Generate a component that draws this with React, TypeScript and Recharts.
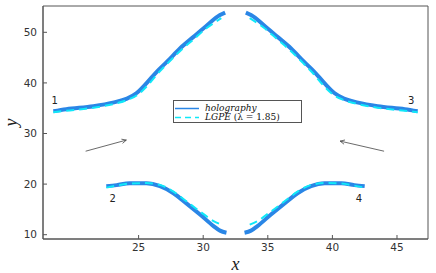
import { LineChart, Line, XAxis, YAxis, ReferenceLine, ReferenceDot, ReferenceArea, Label } from 'recharts';

// holography curves (1: upper-left, 2: lower-left, 3: upper-right, 4: lower-right)
const holo1X = [18.4, 19.4, 21.5, 23.0, 24.1, 24.85, 25.6, 26.4, 27.2, 28.2, 29.25, 30.3, 31.3, 31.7];
const holo1Y = [34.4, 34.8, 35.4, 36.1, 36.9, 38.0, 39.9, 42.2, 44.2, 46.8, 49.1, 51.4, 53.4, 53.9];
const holo2X = [22.5, 23.3, 24.3, 25.6, 26.65, 27.7, 28.7, 29.8, 30.8, 31.3, 31.8];
const holo2Y = [19.6, 19.8, 20.15, 20.15, 19.6, 18.2, 16.2, 13.9, 11.7, 10.8, 10.4];
const holo3X = [33.3, 33.7, 34.7, 35.75, 36.8, 37.8, 38.6, 39.4, 40.15, 40.9, 42.0, 43.5, 45.6, 46.6];
const holo3Y = [53.9, 53.4, 51.4, 49.1, 46.8, 44.2, 42.2, 39.9, 38.0, 36.9, 36.1, 35.4, 34.8, 34.4];
const holo4X = [33.2, 33.7, 34.2, 35.2, 36.3, 37.3, 38.35, 39.4, 40.7, 41.7, 42.5];
const holo4Y = [10.4, 10.8, 11.7, 13.9, 16.2, 18.2, 19.6, 20.15, 20.15, 19.8, 19.6];

// LGPE (lambda = 1.85) curves
const lgpe1X = [18.4, 19.4, 21.5, 23.0, 24.1, 24.9, 25.7, 26.5, 27.3, 28.3, 29.3, 30.3, 31.4];
const lgpe1Y = [34.2, 34.5, 35.1, 35.8, 36.6, 37.6, 39.5, 41.9, 44.0, 46.5, 48.7, 50.9, 52.8];
const lgpe2X = [22.5, 23.3, 24.3, 25.6, 26.7, 27.7, 28.7, 29.8, 30.8, 31.4];
const lgpe2Y = [19.3, 19.7, 20.1, 20.2, 19.8, 18.5, 16.6, 14.5, 12.7, 12.0];
const lgpe3X = [33.6, 34.7, 35.7, 36.7, 37.7, 38.5, 39.3, 40.1, 40.9, 42.0, 43.5, 45.6, 46.6];
const lgpe3Y = [52.8, 50.9, 48.7, 46.5, 44.0, 41.9, 39.5, 37.6, 36.6, 35.8, 35.1, 34.5, 34.2];
const lgpe4X = [33.6, 34.2, 35.2, 36.3, 37.3, 38.3, 39.4, 40.7, 41.7, 42.5];
const lgpe4Y = [12.0, 12.7, 14.5, 16.6, 18.5, 19.8, 20.2, 20.1, 19.7, 19.3];

const xTicks = [25, 30, 35, 40, 45];
const yTicks = [10, 20, 30, 40, 50];
const xDomain = [17.6, 47.4];
const yDomain = [9.15, 55.2];

const curveLabels = [
  { name: '1', x: 18.5, y: 36.6 },
  { name: '2', x: 23.0, y: 17.2 },
  { name: '3', x: 46.1, y: 36.6 },
  { name: '4', x: 42.05, y: 17.2 },
];

const arrows = [
  { x1: 20.9, y1: 26.5, x2: 24.05, y2: 28.7 },
  { x1: 44.0, y1: 26.5, x2: 40.6, y2: 28.5 },
];

const zip = (xs: number[], ys: number[]) => xs.map((x, i) => ({ x, y: ys[i] }));

const holo = [zip(holo1X, holo1Y), zip(holo2X, holo2Y), zip(holo3X, holo3Y), zip(holo4X, holo4Y)];
const lgpe = [zip(lgpe1X, lgpe1Y), zip(lgpe2X, lgpe2Y), zip(lgpe3X, lgpe3Y), zip(lgpe4X, lgpe4Y)];

const BLUE = '#2a86e6';
const CYAN = '#10e8f8';
const FRAME = '#555';
const tickStyle = { fill: '#333', fontSize: 10.5, fontFamily: 'DejaVu Sans' };

function Arrow(props: any) {
  const { x1, y1, x2, y2 } = props;
  if (x1 == null) return null;
  const a = Math.atan2(y2 - y1, x2 - x1);
  const h = 5;
  const p1 = [x2 - h * Math.cos(a - 0.45), y2 - h * Math.sin(a - 0.45)];
  const p2 = [x2 - h * Math.cos(a + 0.45), y2 - h * Math.sin(a + 0.45)];
  return (
    <g stroke="#444" strokeWidth={0.8} fill="none">
      <line x1={x1} y1={y1} x2={x2} y2={y2} />
      <path d={`M${p1[0]},${p1[1]} L${x2},${y2} L${p2[0]},${p2[1]}`} />
    </g>
  );
}

function LegendBox() {
  const serif = { fontFamily: 'DejaVu Serif', fontSize: 9, color: '#111', lineHeight: '9px', whiteSpace: 'nowrap' as const };
  const row = (top: number) => ({ position: 'absolute' as const, left: 1, top, display: 'flex', alignItems: 'center', height: 9 });
  return (
    <div
      style={{
        position: 'absolute',
        left: 173,
        top: 100,
        border: `1px solid ${FRAME}`,
        background: '#fff',
        width: 127,
        height: 21,
        boxSizing: 'content-box',
      }}
    >
      <div style={row(2.5)}>
        <svg width={30} height={9}>
          <line x1={0} y1={4.5} x2={24} y2={4.5} stroke={BLUE} strokeWidth={1.5} />
        </svg>
        <span style={{ ...serif, fontStyle: 'italic' }}>holography</span>
      </div>
      <div style={row(12)}>
        <svg width={30} height={9}>
          <line x1={0} y1={4.5} x2={24} y2={4.5} stroke={CYAN} strokeWidth={1.5} strokeDasharray="6 4" />
        </svg>
        <span style={serif}>
          <i>LGPE</i>&nbsp;(λ&nbsp;=&nbsp;1.85)
        </span>
      </div>
    </div>
  );
}

export default function App() {
  return (
    <div style={{ position: 'absolute', left: 0, top: 0, width: 436, height: 273, background: '#fff' }}>
      <LineChart width={436} height={273} margin={{ top: 6, right: 8, left: 0, bottom: 0 }}>
        <XAxis
          type="number"
          dataKey="x"
          domain={xDomain}
          ticks={xTicks}
          allowDataOverflow
          height={34}
          tick={tickStyle}
          tickSize={-4}
          tickMargin={9}
          stroke={FRAME}
        >
          <Label
            value="x"
            position="insideBottom"
            offset={3}
            style={{ fontFamily: 'Liberation Serif', fontStyle: 'italic', fontSize: 18, fill: '#222' }}
          />
        </XAxis>
        <YAxis
          type="number"
          domain={yDomain}
          ticks={yTicks}
          allowDataOverflow
          width={43}
          tick={tickStyle}
          tickSize={-4}
          tickMargin={10}
          stroke={FRAME}
        >
          <Label
            value="y"
            angle={-90}
            position="insideLeft"
            offset={11}
            style={{ fontFamily: 'Liberation Serif', fontStyle: 'italic', fontSize: 18, fill: '#222', textAnchor: 'middle' }}
          />
        </YAxis>
        <ReferenceArea
          x1={xDomain[0]}
          x2={xDomain[1]}
          y1={yDomain[0]}
          y2={yDomain[1]}
          fill="none"
          stroke={FRAME}
          strokeWidth={1}
          ifOverflow="visible"
        />
        {holo.map((d, i) => (
          <Line
            key={`h${i}`}
            data={d}
            dataKey="y"
            type="monotone"
            stroke={BLUE}
            strokeWidth={4}
            dot={false}
            isAnimationActive={false}
            legendType="none"
          />
        ))}
        {lgpe.map((d, i) => (
          <Line
            key={`l${i}`}
            data={d}
            dataKey="y"
            type="monotone"
            stroke={CYAN}
            strokeWidth={2}
            strokeDasharray="8 5"
            dot={false}
            isAnimationActive={false}
            legendType="none"
          />
        ))}
        {arrows.map((a, i) => (
          <ReferenceLine
            key={`a${i}`}
            segment={[{ x: a.x1, y: a.y1 }, { x: a.x2, y: a.y2 }]}
            shape={(p: any) => <Arrow {...p} />}
          />
        ))}
        {curveLabels.map((c) => (
          <ReferenceDot
            key={c.name}
            x={c.x}
            y={c.y}
            r={0}
            stroke="none"
            fill="none"
            label={{ value: c.name, position: 'center', fill: '#222', fontSize: 10, fontFamily: 'DejaVu Sans' }}
          />
        ))}
      </LineChart>
      <LegendBox />
    </div>
  );
}
